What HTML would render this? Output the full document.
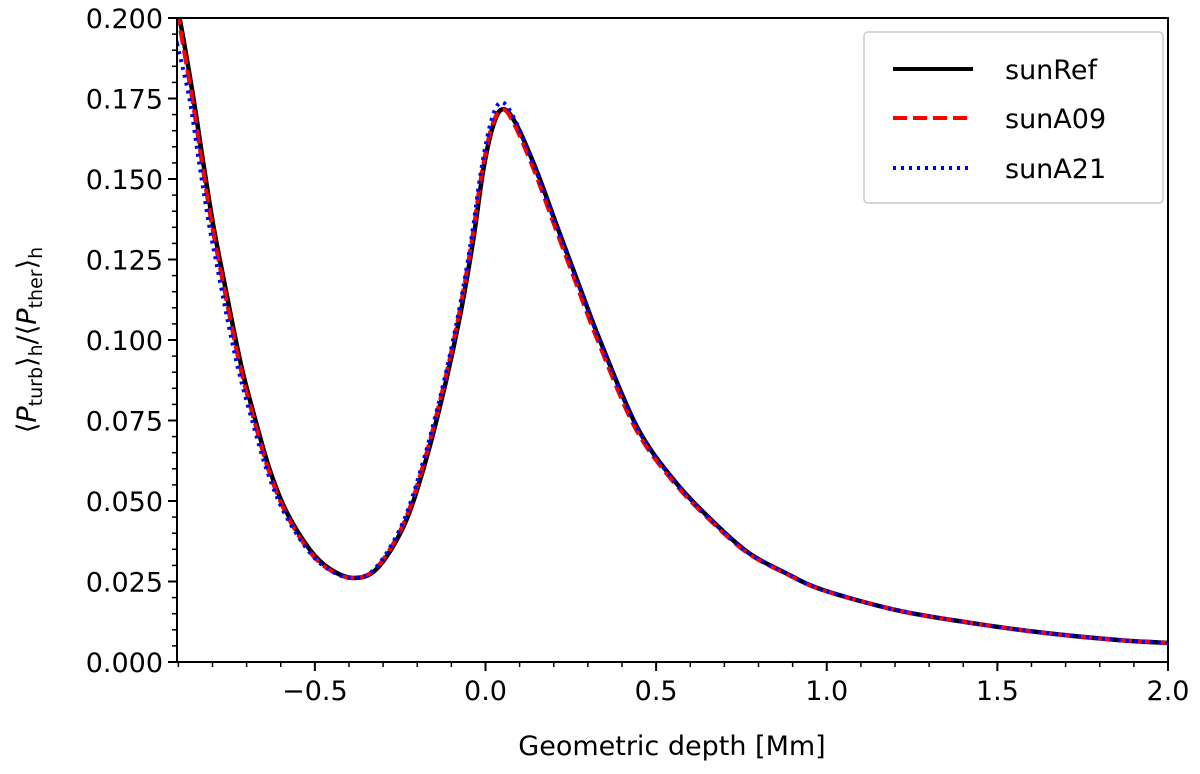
<!DOCTYPE html>
<html><head><meta charset="utf-8"><style>
body{margin:0;background:#fff;}
svg text{font-family:"DejaVu Sans","Liberation Sans",sans-serif;fill:#000;}
</style></head><body>
<svg id="chart" width="1200" height="769" xmlns="http://www.w3.org/2000/svg">
<g id="series"></g>
<g id="axes"></g>
<g>
<rect x="864" y="32" width="299" height="171" rx="4" fill="#fff" stroke="#ccc" stroke-width="1.5"/>
<line x1="893" y1="69" x2="973" y2="69" stroke="#000" stroke-width="4"/>
<text x="1005" y="79" font-size="27">sunRef</text>
<line x1="893" y1="118" x2="973" y2="118" stroke="#f00" stroke-width="4" stroke-dasharray="14,6"/>
<text x="1005" y="128" font-size="27">sunA09</text>
<line x1="893" y1="168" x2="973" y2="168" stroke="#00f" stroke-width="4" stroke-dasharray="3,5"/>
<text x="1005" y="178" font-size="27">sunA21</text>
</g>
<text x="672" y="755" font-size="27" text-anchor="middle">Geometric depth  [Mm]</text>
<text transform="translate(36,340) rotate(-90)" font-size="27" text-anchor="middle">⟨<tspan font-style="italic">P</tspan><tspan font-size="19" dy="6">turb</tspan><tspan dy="-6">⟩</tspan><tspan font-size="19" dy="6">h</tspan><tspan dy="-6">/⟨</tspan><tspan font-style="italic">P</tspan><tspan font-size="19" dy="6">ther</tspan><tspan dy="-6">⟩</tspan><tspan font-size="19" dy="6">h</tspan></text>
</svg>
<script>
const xTicks=[-0.5,0,0.5,1.0,1.5,2.0];
const xTickLabels=["−0.5","0.0","0.5","1.0","1.5","2.0"];
const yTicks=[0,0.025,0.05,0.075,0.1,0.125,0.15,0.175,0.2];
const yTickLabels=["0.000","0.025","0.050","0.075","0.100","0.125","0.150","0.175","0.200"];
const refX=[-0.904,-0.895,-0.856,-0.827,-0.798,-0.768,-0.739,-0.710,-0.671,-0.632,-0.583,-0.514,-0.456,-0.388,-0.319,-0.241,-0.183,-0.124,-0.075,-0.036,-0.007,0.023,0.052,0.091,0.150,0.208,0.276,0.335,0.444,0.552,0.662,0.771,0.880,0.988,1.205,1.425,1.642,1.858,2.0];
const refY=[0.2015,0.1991,0.1752,0.155,0.1358,0.1193,0.1037,0.0894,0.0739,0.0596,0.0466,0.0348,0.0289,0.0261,0.0289,0.0419,0.0596,0.0835,0.1073,0.131,0.1525,0.1668,0.1717,0.1668,0.1525,0.1358,0.1165,0.100,0.073,0.0565,0.0441,0.0339,0.0276,0.0224,0.0161,0.0121,0.0090,0.0068,0.0059];
const a09X=[-0.904,-0.899,-0.860,-0.831,-0.802,-0.772,-0.743,-0.714,-0.675,-0.636,-0.587,-0.519,-0.461,-0.392,-0.323,-0.245,-0.187,-0.128,-0.079,-0.040,-0.010,0.020,0.050,0.085,0.143,0.201,0.269,0.328,0.437,0.546,0.657,0.767,0.877,0.986,1.205,1.425,1.642,1.858,2.0];
const a09Y=[0.2005,0.1991,0.1752,0.155,0.1358,0.1193,0.1037,0.0894,0.0739,0.0596,0.0466,0.0348,0.0289,0.0261,0.0289,0.0419,0.0596,0.0835,0.1073,0.131,0.1525,0.1668,0.1717,0.1668,0.1525,0.1358,0.1165,0.100,0.073,0.0565,0.0441,0.0339,0.0276,0.0224,0.0161,0.0121,0.0090,0.0068,0.0059];
const a21X=[-0.904,-0.904,-0.868,-0.839,-0.810,-0.780,-0.751,-0.721,-0.681,-0.641,-0.591,-0.521,-0.462,-0.392,-0.325,-0.248,-0.190,-0.130,-0.081,-0.042,-0.013,0.018,0.048,0.088,0.148,0.206,0.275,0.334,0.443,0.551,0.661,0.770,0.880,0.988,1.205,1.425,1.642,1.858,2.0];
const a21Y=[0.192,0.192,0.1752,0.155,0.1358,0.1193,0.1037,0.0894,0.0739,0.0596,0.0466,0.0348,0.0289,0.0261,0.0289,0.0419,0.0596,0.0835,0.1073,0.131,0.1525,0.1685,0.1738,0.1680,0.1525,0.1358,0.1165,0.100,0.073,0.0565,0.0441,0.0339,0.0276,0.0224,0.0161,0.0121,0.0090,0.0068,0.0059];
const X0=177,X1=1168,XMIN=-0.904,XMAX=2.0,Y0=662,Y1=18,YMIN=0,YMAX=0.2;
const sx=v=>X0+(v-XMIN)/(XMAX-XMIN)*(X1-X0);
const sy=v=>Y0-(v-YMIN)/(YMAX-YMIN)*(Y0-Y1);
const NS="http://www.w3.org/2000/svg";
function mk(t,attrs,parent){const e=document.createElementNS(NS,t);for(const k in attrs)e.setAttribute(k,attrs[k]);parent.appendChild(e);return e;}
function smooth(xs,ys){
 const p=xs.map((x,i)=>[sx(x),sy(ys[i])]);let d="M"+p[0][0]+","+p[0][1];
 for(let i=0;i<p.length-1;i++){const a=p[Math.max(0,i-1)],b=p[i],c=p[i+1],e=p[Math.min(p.length-1,i+2)];
  const c1=[b[0]+(c[0]-a[0])/6,b[1]+(c[1]-a[1])/6],c2=[c[0]-(e[0]-b[0])/6,c[1]-(e[1]-b[1])/6];
  d+=" C"+c1+" "+c2+" "+c;}
 return d;}
const ser=document.getElementById('series');
const clip=mk('clipPath',{id:'pc'},ser);mk('rect',{x:X0,y:Y1,width:X1-X0,height:Y0-Y1},clip);
const s1=mk('path',{d:smooth(refX,refY),fill:'none',stroke:'#000','stroke-width':4.5,'clip-path':'url(#pc)'},ser);


const s2=mk('path',{d:smooth(a09X,a09Y),fill:'none',stroke:'#f00','stroke-width':4,'stroke-dasharray':'14,6','clip-path':'url(#pc)'},ser);


const s3=mk('path',{d:smooth(a21X,a21Y),fill:'none',stroke:'#00f','stroke-width':4,'stroke-dasharray':'3,5','clip-path':'url(#pc)'},ser);


const ax=document.getElementById('axes');
const fr=mk('rect',{x:X0,y:Y1,width:X1-X0,height:Y0-Y1,fill:'none',stroke:'#000','stroke-width':2},ax);


for(let v=-0.9;v<=2.0001;v+=0.1){const x=sx(v);mk('line',{x1:x,x2:x,y1:Y0,y2:Y0+5,stroke:'#000','stroke-width':1.5},ax);}
for(let v=0;v<=0.2001;v+=0.005){const y=sy(v);mk('line',{x1:X0,x2:X0-5,y1:y,y2:y,stroke:'#000','stroke-width':1.5},ax);}
xTicks.forEach((v,i)=>{const x=sx(v);mk('line',{x1:x,x2:x,y1:Y0,y2:Y0+9,stroke:'#000','stroke-width':2},ax);
 const t=mk('text',{x:x,y:Y0+38,'font-size':27,'text-anchor':'middle'},ax);t.textContent=xTickLabels[i];
 
 });
yTicks.forEach((v,i)=>{const y=sy(v);mk('line',{x1:X0,x2:X0-9,y1:y,y2:y,stroke:'#000','stroke-width':2},ax);
 const t=mk('text',{x:X0-14,y:y+10,'font-size':27,'text-anchor':'end'},ax);t.textContent=yTickLabels[i];
 
 });
</script>
</body></html>
